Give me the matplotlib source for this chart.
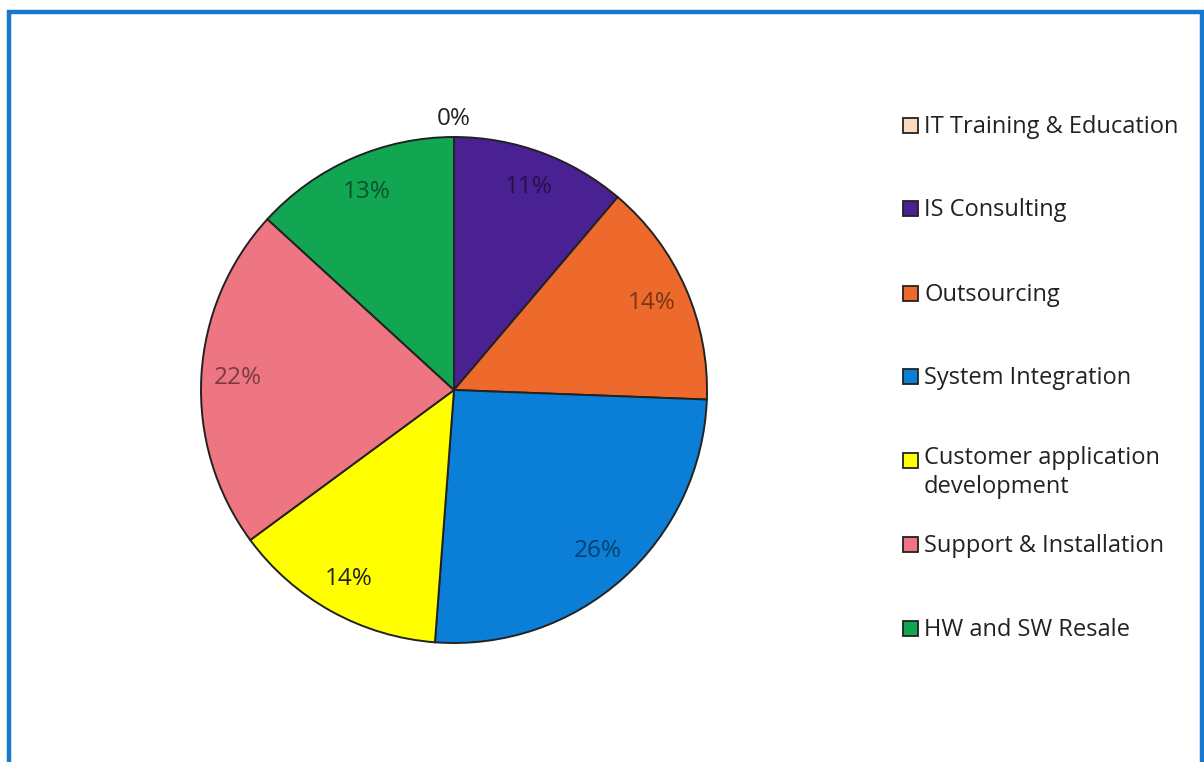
import matplotlib
matplotlib.use("Agg")
import matplotlib.pyplot as plt
from matplotlib.patches import Rectangle
import matplotlib.colors as mcolors

categories = ["IT Training & Education", "IS Consulting", "Outsourcing",
              "System Integration", "Customer application\ndevelopment",
              "Support & Installation", "HW and SW Resale"]
shares = [0, 11.2, 14.4, 25.6, 13.7, 21.9, 13.2]
colors = ["#F9D9C0", "#4A2192", "#EE6A2C", "#0B7FD8", "#FFFF00", "#EE7682", "#12A652"]

plt.rcParams['font.family'] = ['Open Sans', 'DejaVu Sans']

W, H = 1204, 762
fig = plt.figure(figsize=(W / 100, H / 100), dpi=100)
fig.patch.set_facecolor("white")

# blue frame
frame = Rectangle((9 / W, -0.05), (1202 - 9) / W, (H - 12) / H + 0.05,
                  transform=fig.transFigure, fill=False, edgecolor="#1878D0",
                  linewidth=3.2, zorder=0)
fig.add_artist(frame)

cx, cy, r = 454, 390, 253
ax = fig.add_axes([(cx - r) / W, (H - cy - r) / H, 2 * r / W, 2 * r / H])
wedges, texts, autotexts = ax.pie(
    shares, colors=colors, startangle=90, counterclock=False,
    autopct=lambda p: f"{p:.0f}%", pctdistance=0.855,
    wedgeprops=dict(edgecolor="#222222", linewidth=1.4),
    textprops=dict(fontsize=17.5))
ax.set_xlim(-1, 1)
ax.set_ylim(-1, 1)
ax.set_aspect("equal")
ax.axis("off")

for w, t, v, c in zip(wedges, autotexts, shares, colors):
    if v == 0:
        t.set_position((0.0, 1.07))
        t.set_color("#222222")
    elif c == "#FFFF00":
        t.set_color("#222222")
    else:
        rgb = mcolors.to_rgb(c)
        t.set_color(tuple(x * 0.5 for x in rgb))

# legend
ys = [125, 208, 293, 376, 460, 544, 628]
for lab, c, y in zip(categories, colors, ys):
    fig.add_artist(Rectangle((903 / W, (H - y - 7.5) / H), 15 / W, 15 / H,
                             transform=fig.transFigure, facecolor=c,
                             edgecolor="#222222", linewidth=1.3))
    if "\n" in lab:
        fig.text(924 / W, (H - y + 14) / H, lab, fontsize=17, color="#222222",
                 va="top", ha="left", linespacing=1.3)
    else:
        fig.text(924 / W, (H - y - 2) / H, lab, fontsize=17, color="#222222",
                 va="center", ha="left")

fig.savefig("out.png", dpi=100)
